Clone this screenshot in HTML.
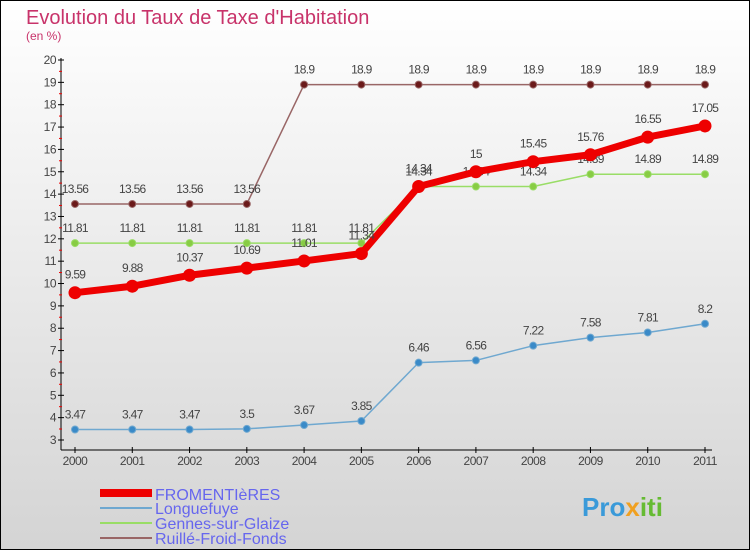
<!DOCTYPE html>
<html><head><meta charset="utf-8"><style>
body{margin:0;}
svg{display:block;font-family:"Liberation Sans","DejaVu Sans",sans-serif;}
</style></head><body>
<svg id="chart" width="750" height="550" viewBox="0 0 750 550">
<defs><linearGradient id="bg" x1="0" y1="0" x2="0" y2="1"><stop offset="0" stop-color="#ffffff"/><stop offset="1" stop-color="#d4d4d4"/></linearGradient></defs>
<rect x="0.5" y="0.5" width="749" height="549" fill="url(#bg)" stroke="#000"/>
<text x="26" y="24" font-size="20" fill="#c8336a">Evolution du Taux de Taxe d'Habitation</text>
<text x="26" y="40" font-size="12" fill="#c8336a">(en %)</text>
<g id="axes"></g><g id="series"></g>
<g>
<rect x="100" y="489" width="52" height="8" fill="#e00"/>
<text x="155" y="500" font-size="16" fill="#6666ee">FROMENTIèRES</text>
<line x1="100" y1="508" x2="152" y2="508" stroke="#6fa8d0" stroke-width="2"/>
<text x="155" y="514" font-size="16" fill="#6666ee">Longuefuye</text>
<line x1="100" y1="523" x2="152" y2="523" stroke="#99dd66" stroke-width="2"/>
<text x="155" y="529" font-size="16" fill="#6666ee">Gennes-sur-Glaize</text>
<line x1="100" y1="538" x2="152" y2="538" stroke="#996666" stroke-width="2"/>
<text x="155" y="544" font-size="16" fill="#6666ee">Ruillé-Froid-Fonds</text>
</g>
<text x="582" y="516" font-size="26" font-weight="bold" fill="#3a9ad9">Pro<tspan fill="#f0a020">x</tspan><tspan fill="#66bb33">iti</tspan></text>
</svg>
<script>
const years=[2000,2001,2002,2003,2004,2005,2006,2007,2008,2009,2010,2011];
const yTicks=[3,4,5,6,7,8,9,10,11,12,13,14,15,16,17,18,19,20];
const fromentieres=[9.59,9.88,10.37,10.69,11.01,11.34,14.34,15,15.45,15.76,16.55,17.05];
const longuefuye=[3.47,3.47,3.47,3.5,3.67,3.85,6.46,6.56,7.22,7.58,7.81,8.2];
const gennes=[11.81,11.81,11.81,11.81,11.81,11.81,14.34,14.34,14.34,14.89,14.89,14.89];
const ruille=[13.56,13.56,13.56,13.56,18.9,18.9,18.9,18.9,18.9,18.9,18.9,18.9];
const NS='http://www.w3.org/2000/svg';
const xS=i=>75+i*(630/(years.length-1));
const yS=v=>440-(v-3)*(380/17);
function mk(tag,attrs,parent){const e=document.createElementNS(NS,tag);for(const k in attrs)e.setAttribute(k,attrs[k]);parent.appendChild(e);return e;}
const ax=document.getElementById('axes');
let l=mk('line',{x1:61,y1:58,x2:61,y2:450,stroke:'#000'},ax);


l=mk('line',{x1:61,y1:450,x2:712,y2:450,stroke:'#000'},ax);


yTicks.forEach(v=>{const y=yS(v);
 mk('line',{x1:58,y1:y,x2:64,y2:y,stroke:'#000'},ax);
 if(v<20)mk('line',{x1:59,y1:y-11,x2:62,y2:y-11,stroke:'#e00'},ax);
 const t=mk('text',{x:56,y:y+4,'font-size':12,fill:'#444','text-anchor':'end','letter-spacing':'-0.5'},ax);t.textContent=v;
 
 });
years.forEach((yr,i)=>{const x=xS(i);
 mk('line',{x1:x,y1:447,x2:x,y2:453,stroke:'#000'},ax);
 const t=mk('text',{x:x,y:465,'font-size':12,fill:'#444','text-anchor':'middle','letter-spacing':'-0.5'},ax);t.textContent=yr;
 
 });
const sg=document.getElementById('series');
function series(data,name,color,w,r,dot,labDy){
 const g=mk('g',{},sg);
 
 
 const p=mk('polyline',{points:data.map((v,i)=>xS(i)+','+yS(v)).join(' '),fill:'none',stroke:color,'stroke-width':w,'stroke-linejoin':'round'},g);
 
 
 data.forEach((v,i)=>{const c=mk('circle',{cx:xS(i),cy:yS(v),r:r,fill:dot,stroke:color,'stroke-width':1},g);
  
  
  const t=mk('text',{x:xS(i),y:yS(v)+labDy,'font-size':12,fill:'#444','text-anchor':'middle','letter-spacing':'-0.7'},g);t.textContent=v;
  
  });
}
series(ruille,'ruille','#996666',1.5,3.5,'#6b1a1a',-11);
series(gennes,'gennes','#99dd66',1.5,3.5,'#88cc44',-11);
series(longuefuye,'longuefuye','#6fa8d0',1.5,3.5,'#3a8ac8',-11);
series(fromentieres,'fromentieres','#ee0000',7,6,'#ee0000',-14);
</script>
</body></html>
